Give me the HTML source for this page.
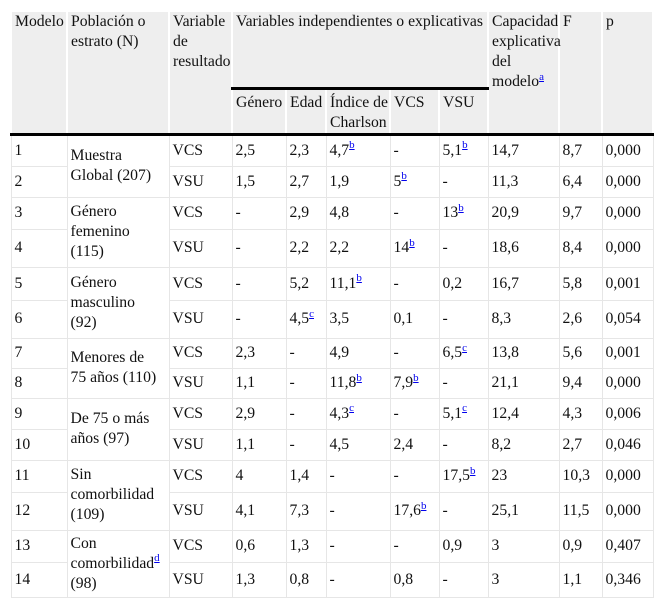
<!DOCTYPE html>
<html><head><meta charset="utf-8"><style>
body{margin:0;background:#fff;}
table{position:absolute;left:10px;top:10px;width:642px;border-collapse:collapse;table-layout:fixed;font-family:"Liberation Serif",serif;font-size:15.7px;color:#111;}
td,th{border:1px solid #e6e6e6;padding:0 1px 0 3px;font-weight:normal;text-align:left;line-height:20px;vertical-align:middle;white-space:normal;}
thead th{background:#eeeeee;border:2px solid #fff;vertical-align:top;padding-top:0;}
thead tr.h2 th{border-top:2px solid #000;}
tr.h2 th{padding-top:3px;}
thead tr.h1 th.sub{border-bottom:3px solid #000;}
tbody tr:first-child td{border-top:3px solid #000;}
sup{line-height:0;}
sup a{color:#00e;font-size:11px;text-decoration:underline;}
</style></head><body>
<table>
<colgroup><col style="width:56px"><col style="width:102px"><col style="width:63px"><col style="width:54px"><col style="width:40px"><col style="width:64px"><col style="width:49px"><col style="width:49px"><col style="width:71px"><col style="width:43px"><col style="width:51px"></colgroup>
<thead>
<tr class="h1" style="height:77px"><th rowspan="2">Modelo</th><th rowspan="2">Población o<br>estrato (N)</th><th rowspan="2">Variable de resultado</th><th colspan="5" class="sub">Variables independientes o explicativas</th><th rowspan="2">Capacidad explicativa del modelo<sup><a>a</a></sup></th><th rowspan="2">F</th><th rowspan="2">p</th></tr>
<tr class="h2" style="height:44px"><th>Género</th><th>Edad</th><th>Índice de Charlson</th><th>VCS</th><th>VSU</th></tr>
</thead>
<tbody>
<tr style="height:32px"><td>1</td><td rowspan="2">Muestra<br>Global (207)</td><td>VCS</td><td>2,5</td><td>2,3</td><td>4,7<sup><a>b</a></sup></td><td>-</td><td>5,1<sup><a>b</a></sup></td><td>14,7</td><td>8,7</td><td>0,000</td></tr>
<tr style="height:31px"><td>2</td><td>VSU</td><td>1,5</td><td>2,7</td><td>1,9</td><td>5<sup><a>b</a></sup></td><td>-</td><td>11,3</td><td>6,4</td><td>0,000</td></tr>
<tr style="height:32px"><td>3</td><td rowspan="2">Género<br>femenino<br>(115)</td><td>VCS</td><td>-</td><td>2,9</td><td>4,8</td><td>-</td><td>13<sup><a>b</a></sup></td><td>20,9</td><td>9,7</td><td>0,000</td></tr>
<tr style="height:38px"><td>4</td><td>VSU</td><td>-</td><td>2,2</td><td>2,2</td><td>14<sup><a>b</a></sup></td><td>-</td><td>18,6</td><td>8,4</td><td>0,000</td></tr>
<tr style="height:33px"><td>5</td><td rowspan="2">Género<br>masculino<br>(92)</td><td>VCS</td><td>-</td><td>5,2</td><td>11,1<sup><a>b</a></sup></td><td>-</td><td>0,2</td><td>16,7</td><td>5,8</td><td>0,001</td></tr>
<tr style="height:38px"><td>6</td><td>VSU</td><td>-</td><td>4,5<sup><a>c</a></sup></td><td>3,5</td><td>0,1</td><td>-</td><td>8,3</td><td>2,6</td><td>0,054</td></tr>
<tr style="height:30px"><td>7</td><td rowspan="2">Menores de<br>75 años (110)</td><td>VCS</td><td>2,3</td><td>-</td><td>4,9</td><td>-</td><td>6,5<sup><a>c</a></sup></td><td>13,8</td><td>5,6</td><td>0,001</td></tr>
<tr style="height:30px"><td>8</td><td>VSU</td><td>1,1</td><td>-</td><td>11,8<sup><a>b</a></sup></td><td>7,9<sup><a>b</a></sup></td><td>-</td><td>21,1</td><td>9,4</td><td>0,000</td></tr>
<tr style="height:31px"><td>9</td><td rowspan="2">De 75 o más<br>años (97)</td><td>VCS</td><td>2,9</td><td>-</td><td>4,3<sup><a>c</a></sup></td><td>-</td><td>5,1<sup><a>c</a></sup></td><td>12,4</td><td>4,3</td><td>0,006</td></tr>
<tr style="height:31px"><td>10</td><td>VSU</td><td>1,1</td><td>-</td><td>4,5</td><td>2,4</td><td>-</td><td>8,2</td><td>2,7</td><td>0,046</td></tr>
<tr style="height:32px"><td>11</td><td rowspan="2">Sin<br>comorbilidad<br>(109)</td><td>VCS</td><td>4</td><td>1,4</td><td>-</td><td>-</td><td>17,5<sup><a>b</a></sup></td><td>23</td><td>10,3</td><td>0,000</td></tr>
<tr style="height:38px"><td>12</td><td>VSU</td><td>4,1</td><td>7,3</td><td>-</td><td>17,6<sup><a>b</a></sup></td><td>-</td><td>25,1</td><td>11,5</td><td>0,000</td></tr>
<tr style="height:32px"><td>13</td><td rowspan="2">Con<br>comorbilidad<sup><a>d</a></sup><br>(98)</td><td>VCS</td><td>0,6</td><td>1,3</td><td>-</td><td>-</td><td>0,9</td><td>3</td><td>0,9</td><td>0,407</td></tr>
<tr style="height:35px"><td>14</td><td>VSU</td><td>1,3</td><td>0,8</td><td>-</td><td>0,8</td><td>-</td><td>3</td><td>1,1</td><td>0,346</td></tr>
</tbody></table>
</body></html>
